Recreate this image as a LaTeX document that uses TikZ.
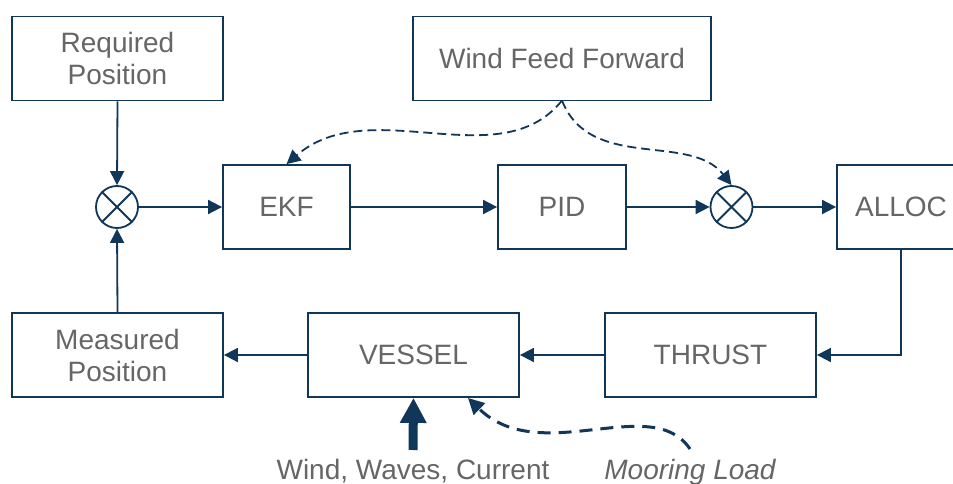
\documentclass[tikz,border=0pt]{standalone}
\usepackage{fontspec}
\setmainfont{Liberation Sans}
\usetikzlibrary{arrows.meta}
\definecolor{navy}{HTML}{10375A}
\definecolor{txt}{HTML}{666666}
\begin{document}
\begin{tikzpicture}[x=1pt,y=-1pt,
  box/.style={draw=navy, line width=1.8pt, rectangle, inner sep=0pt, align=center,
    text=txt, font=\fontsize{28}{32}\selectfont},
  sumnode/.style={draw=navy, line width=1.8pt, circle, minimum size=42pt, inner sep=0pt},
  conn/.style={draw=navy, line width=1.8pt, -{Triangle[length=14pt,width=14pt]}},
  ff/.style={draw=navy, line width=1.8pt, dash pattern=on 9pt off 5pt, -{Triangle[length=14pt,width=14pt]}},
  lbl/.style={text=txt, font=\fontsize{28}{32}\selectfont, inner sep=0pt, anchor=base}]
\useasboundingbox[fill=white] (0,0) rectangle (953,484);
% boxes
\node[box, minimum width=211pt, minimum height=84pt] (req) at (117.5,58.5) {Required\\Position};
\node[box, minimum width=298pt, minimum height=84pt] (wff) at (562,58.5) {Wind Feed Forward};
\node[box, minimum width=127pt, minimum height=84pt] (ekf) at (286.5,207) {EKF};
\node[box, minimum width=128pt, minimum height=84pt] (pid) at (562,207) {PID};
\node[box, minimum width=128pt, minimum height=84pt] (alloc) at (901,207) {ALLOC};
\node[box, minimum width=211pt, minimum height=84pt] (meas) at (117.5,355) {Measured\\Position};
\node[box, minimum width=211pt, minimum height=84pt] (vessel) at (413.5,355) {VESSEL};
\node[box, minimum width=211pt, minimum height=84pt] (thrust) at (710.5,355) {THRUST};
% summing junctions
\node[sumnode] (s1) at (117,207) {};
\node[sumnode] (s2) at (731.5,207) {};
\foreach \s in {s1,s2}{
  \draw[navy, line width=1.8pt] (\s.45) -- (\s.225) (\s.135) -- (\s.315);
}
% connectors
\draw[conn] (req.south) -- (s1.north);
\draw[conn] (meas.north) -- (s1.south);
\draw[conn] (s1.east) -- (ekf.west);
\draw[conn] (ekf.east) -- (pid.west);
\draw[conn] (pid.east) -- (s2.west);
\draw[conn] (s2.east) -- (alloc.west);
\draw[conn] (alloc.south) |- (thrust.east);
\draw[conn] (thrust.west) -- (vessel.east);
\draw[conn] (vessel.west) -- (meas.east);
% feed forward
\coordinate (wffo) at (562,100.5);
\draw[ff] (wffo) .. controls (500,178) and (370,92) .. (ekf.north);
\draw[ff] (wffo) .. controls (590,172) and (690,132) .. (s2.north);
% disturbances
\coordinate (wwc) at (413,450);
\coordinate (moor) at (690,449);
\coordinate (vin) at (468,398);
\draw[navy, line width=9pt, -{Triangle[length=25pt,width=25pt]}] (wwc) -- (vessel.south);
\draw[navy, line width=3pt, dash pattern=on 13pt off 8pt, -{Triangle[length=16pt,width=16pt]}] (moor) .. controls (652,392) and (540,468) .. (vin);
\node[lbl] (wwclbl) at (413,479) {Wind, Waves, Current};
\node[lbl, font=\fontsize{28}{32}\selectfont\itshape] (moorlbl) at (690,479) {Mooring Load};
\end{tikzpicture}
\end{document}
